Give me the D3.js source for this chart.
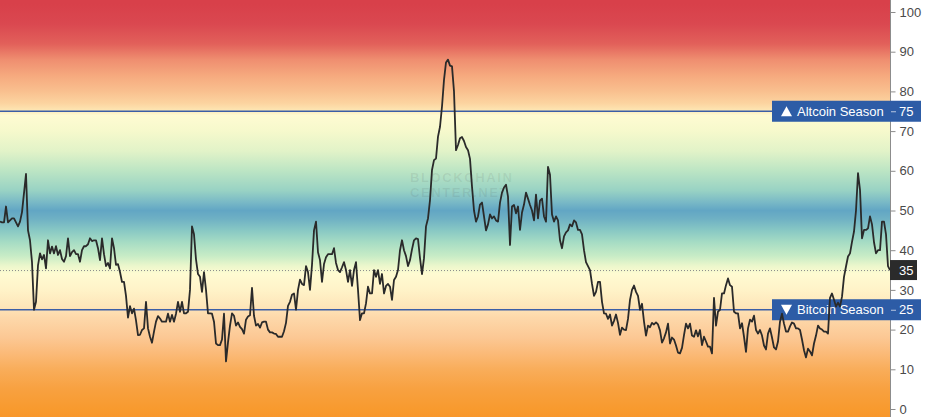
<!DOCTYPE html>
<html><head><meta charset="utf-8">
<script src="https://cdn.jsdelivr.net/npm/d3@7"></script>
<style>html,body{margin:0;padding:0;background:#fff;}svg{display:block;}</style>
</head><body><div id="chart"></div>
<script>
// Altcoin Season Index series (left → right, evenly spaced)
const values = [
47.2,47,47,51,47,47.5,48,48,47,46,
47.2,49.6,54.4,59.2,45,42.5,37,25,27,36.2,
39.2,37.7,38.8,35.4,42.5,39.2,40.9,39.2,41,38.8,
40,37.8,37.1,38.5,43,38.5,39.5,40,39,39,
37.1,40,41,41,41.5,43,42.3,42.5,42.5,40.5,
37.5,43,39,36,36.8,35.4,43,40.5,36.3,36.5,
34.5,32,32,28.5,23,25.9,24.1,25.3,22.3,18.6,
18.7,19.9,20.3,27,20.3,18.2,16.7,19.5,22,23.4,
22.8,22,22,22,24,22,23.7,22,24,27,
24.5,27,24.1,24.1,24.5,30,46,44,37.7,34,
33.3,29.5,34.5,30,24.1,24.1,24,22,16.5,16.1,
16.1,17.5,24,12,16.8,21,24.1,23.5,21,21.8,
20.7,20.1,19,22.5,23.3,23.6,30.5,23.5,21,21.4,
20.5,21.8,22,22,20,19.3,19.3,19,18.9,18.2,
18.2,18.2,19.6,21.7,26,27,28.8,29.1,25,30,
32.6,31.5,31.2,36,34.5,30,36.3,45,47.2,39.5,
37.5,32,36.5,38.2,39,39,39,40.5,36.8,35,
34.5,35.7,37,35,32,35,31,35,37,30,
22.4,24.1,24.1,26.6,30.8,29.1,29.1,35,33.3,35,
31.5,34,29.1,31,31.5,30.8,27.5,32.5,33.3,35,
40,42.5,40,38.5,36,37.5,40.2,42.5,43,42.8,
38,34,38,46,48,52.6,60.2,62.7,63.1,68.6,
71.1,76.2,82.9,87.3,88,86.5,86.3,80,65.2,66.5,
68.2,68.5,67.5,66,65.2,63,56,50,47.2,48.5,
51.5,52,48.5,45,46.5,49,48,48.5,47.5,47.2,
52,54.5,55.8,56.5,53.5,41.3,51,51.4,49.3,51,
45.1,49.5,51.5,54.5,53,51.4,50,47.5,54,48,
52.5,53,48.5,47.2,61,59,49,47.2,48.5,47.5,
42.5,40.5,43.5,44.5,45,46.5,46,47.5,47,45.1,
45.1,44,40,37,36,35,31.5,28.5,29.5,32,
32,27,24.1,24,22.7,23.8,21,22.2,23.8,21.7,
18.7,20.5,20,19.9,22.7,27.5,30,31.1,29.5,28.5,
25,26.5,22,18.5,21,20.6,21.7,21.3,21.8,21.3,
19.8,16.7,17.8,19.3,21.5,16.5,18,17.5,16,14.2,
14,15.4,18.6,21.5,20.3,21.5,18.5,18.2,19.8,18.3,
19.9,16.1,18.2,17,15.7,15.7,14,28,21,24.5,
25,29.1,29.1,31.2,32.9,31.2,30.8,24.5,24.1,24.1,
20.3,21.6,18.2,14.4,20.3,22.5,22,23.5,19.9,19,
19.9,18.5,16,15,19,20.3,18,15.5,15,17,
22,24,21.5,19.5,19.5,20.8,21.8,21.5,20.3,20.3,
19.9,17.5,14.8,13,15.2,14.5,13.5,16.5,18.5,21,
20.3,20,19.5,19.5,19,28,29.1,27.5,25.8,26.8,
25.8,28.3,33.3,35.9,38.4,39.2,42.1,44.7,50,59.4,
55.2,43,45.1,45.1,45.5,48.5,46.5,42,39.2,40,
40,47.2,47.2,44,36,35
];
const tickValues = [0,10,20,30,40,50,60,70,80,90,100];
const altcoinLevel = 75;
const bitcoinLevel = 25;
const lastValue = 35;
const altcoinLabel = "Altcoin Season";
const bitcoinLabel = "Bitcoin Season";
const watermarkLines = ["BLOCKCHAIN", "CENTER.NET"];

// background gradient stops (value → colour)
const gradValues = [102,97,92,88,84,80,77,75.5,74,70,65,60,55,52,50,48,45,42,38.5,36,34,30,26,23,18,14,10,5,0,-2];
const gradColors = ["#d8404a","#da4850","#e2605a","#ef8e70","#f6a97e","#f9c08f","#fcd4a0","#fde3b0","#fffbd2","#f6f9cc","#e2f3c8","#bce5c4","#98d2c4","#78b8c6","#62a6c4","#6eb0c4","#88c8c4","#a6dcc4","#c8ecc6","#ecf7cc","#fffbd2","#fff3c8","#fee6ba","#fdd8aa","#fcc894","#fbba78","#f9ad5a","#f8a140","#f89a2e","#f8962a"];

const W = 928, H = 417, plotRight = 890;
const FONT = "'Liberation Sans', Arial, sans-serif";

const svg = d3.select("#chart").append("svg").attr("width", W).attr("height", H);
const y = d3.scaleLinear().domain([0, 100]).range([409, 12]);
const x = d3.scaleLinear().domain([0, values.length - 1]).range([0, plotRight]);

const defs = svg.append("defs");
const grad = defs.append("linearGradient").attr("id", "bg")
  .attr("gradientUnits", "userSpaceOnUse")
  .attr("x1", 0).attr("x2", 0).attr("y1", y(102)).attr("y2", y(-2));
const gy0 = y(102), gy1 = y(-2);
gradValues.forEach((v, i) => {
  grad.append("stop").attr("offset", (y(v) - gy0) / (gy1 - gy0)).attr("stop-color", gradColors[i]);
});

svg.append("rect").attr("x", 0).attr("y", 0).attr("width", plotRight).attr("height", H).attr("fill", "url(#bg)");

// watermark
const wm = svg.append("g").attr("fill", "rgba(60,60,60,0.09)").attr("font-family", FONT)
  .attr("font-weight", "bold").attr("font-size", 13).attr("letter-spacing", 1.6);
watermarkLines.forEach((t, i) => {
  wm.append("text").attr("x", 410).attr("y", 182 + i * 15).text(t);
});

// level lines
const lineColor = "#3c5ea6";
[altcoinLevel, bitcoinLevel].forEach(v => {
  svg.append("line").attr("x1", 0).attr("x2", 772).attr("y1", y(v)).attr("y2", y(v))
    .attr("stroke", lineColor).attr("stroke-width", 1.6);
});
// dotted last-value line
svg.append("line").attr("x1", 0).attr("x2", plotRight).attr("y1", y(lastValue) + 0.5).attr("y2", y(lastValue) + 0.5)
  .attr("stroke", "#8a8a8a").attr("stroke-width", 1).attr("stroke-dasharray", "1,2");

// axis line
svg.append("line").attr("x1", plotRight + 0.5).attr("x2", plotRight + 0.5).attr("y1", 0).attr("y2", H)
  .attr("stroke", "#8c8c8c").attr("stroke-width", 1);

// axis
const axis = d3.axisRight(y).tickValues(tickValues).tickSize(5).tickPadding(4).tickSizeOuter(0);
const ag = svg.append("g").attr("transform", `translate(${plotRight + 0.5},0)`).call(axis);
ag.select(".domain").remove();
ag.selectAll(".tick line").attr("stroke", "#8c8c8c");
ag.selectAll(".tick text").attr("fill", "#4a4a4a").attr("font-family", FONT).attr("font-size", 13);

// season label boxes
function seasonBox(v, label, up) {
  const g = svg.append("g");
  const cy = y(v);
  g.append("rect").attr("x", 772).attr("y", cy - 10.5).attr("width", 149).attr("height", 21).attr("fill", "#2d5ca6");
  const tx = 781, tw = 11, th = 10;
  const tri = up
    ? `M${tx},${cy + th / 2} L${tx + tw},${cy + th / 2} L${tx + tw / 2},${cy - th / 2} Z`
    : `M${tx},${cy - th / 2} L${tx + tw},${cy - th / 2} L${tx + tw / 2},${cy + th / 2} Z`;
  g.append("path").attr("d", tri).attr("fill", "#fff");
  g.append("text").attr("x", 797).attr("y", cy + 4.5).attr("fill", "#fff")
    .attr("font-family", FONT).attr("font-size", 13).text(label);
  g.append("line").attr("x1", plotRight + 1).attr("x2", plotRight + 6).attr("y1", cy + 0.5).attr("y2", cy + 0.5)
    .attr("stroke", "#b9c6e0").attr("stroke-width", 1);
  g.append("text").attr("x", 899).attr("y", cy + 4.5).attr("fill", "#fff")
    .attr("font-family", FONT).attr("font-size", 13).text(v);
}
seasonBox(altcoinLevel, altcoinLabel, true);
seasonBox(bitcoinLevel, bitcoinLabel, false);

// main line
const line = d3.line().x((d, i) => x(i)).y(d => y(d));
svg.append("path").datum(values).attr("d", line).attr("fill", "none")
  .attr("stroke", "#2a2a2a").attr("stroke-width", 1.8).attr("stroke-linejoin", "round");

// last value label
svg.append("rect").attr("x", plotRight).attr("y", y(lastValue) - 10).attr("width", 27).attr("height", 20).attr("fill", "#2b2b2b");
svg.append("text").attr("x", 899).attr("y", y(lastValue) + 4.5).attr("fill", "#fff")
  .attr("font-family", FONT).attr("font-size", 13).text(lastValue);
</script></body></html>
